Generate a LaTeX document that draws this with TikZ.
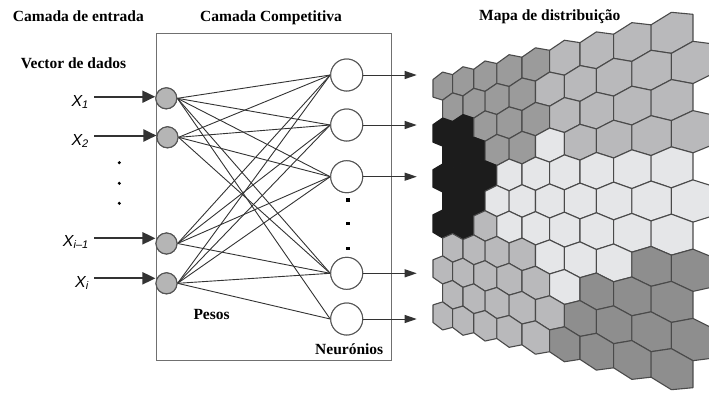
\documentclass[tikz,border=0pt]{standalone}
\usepackage{fontspec}
\setmainfont{Liberation Serif}
\newfontfamily\lsans{Liberation Sans}
\usetikzlibrary{arrows.meta}
\definecolor{hD}{HTML}{9B9B9B}
\definecolor{hE}{HTML}{8E8E8E}
\definecolor{hL}{HTML}{B9B9BB}
\definecolor{hW}{HTML}{E5E6E8}
\definecolor{hB}{HTML}{1C1C1C}
\definecolor{hexedge}{HTML}{4A4A4A}
\definecolor{wire}{HTML}{333333}
\definecolor{circ}{HTML}{555555}
\definecolor{infill}{HTML}{B5B5B5}
\definecolor{boxcol}{HTML}{707070}
\pgfmathdeclarefunction{hx}{1}{\pgfmathparse{1000/(2.066-0.0802*(#1))-51}}
\pgfmathdeclarefunction{hy}{2}{\pgfmathparse{-201-46.56/(2.066-0.0802*(#1))*(#2)}}
\begin{document}
\begin{tikzpicture}[x=1pt,y=1pt,
  title/.style={font=\bfseries\fontsize{15.5}{18}\selectfont, anchor=base west, inner sep=0pt},
  xlab/.style={font=\lsans\itshape\fontsize{16}{16}\selectfont, anchor=base east, inner sep=0pt},
  inn/.style={circle, draw=circ, fill=infill, minimum size=21pt, inner sep=0pt, line width=1.1pt},
  outn/.style={circle, draw=circ, fill=white, minimum size=32pt, inner sep=0pt, line width=1pt},
  boxst/.style={draw=boxcol, line width=1.3pt, inner sep=0pt, anchor=north west},
  wireln/.style={draw=wire, line width=0.9pt},
  inarr/.style={draw=wire, line width=2pt, -{Triangle[length=13pt,width=12pt]}},
  outarr/.style={draw=wire, line width=1pt, -{Triangle[length=12pt,width=8pt]}},
  hexcell/.style={line width=1.1pt, line join=round},
  cellD/.style={fill=hD, draw=hexedge},
  cellE/.style={fill=hE, draw=hexedge},
  cellL/.style={fill=hL, draw=hexedge},
  cellW/.style={fill=hW, draw=hexedge},
  cellB/.style={fill=hB, draw=hB},
  sqdot/.style={fill=black, minimum size=3.5pt, inner sep=0pt},
  rdot/.style={circle, fill=black, minimum size=3.4pt, inner sep=0pt}]
\useasboundingbox (0,0) rectangle (709,-392);
% hex map
\begin{scope}
\clip (0,0) rectangle (709,-392);
\foreach \r/\cols in {1/{D,D,D,D,D,L,L,L,L},2/{D,D,D,D,L,L,L,L,L},3/{B,B,D,D,D,L,L,L,L},4/{B,B,D,D,W,L,L,L,L},5/{B,B,B,W,W,W,W,W,W},6/{B,B,W,W,W,W,W,W,W},7/{B,B,L,W,W,W,W,W,W},8/{L,L,L,L,W,W,W,E,E},9/{L,L,L,L,L,W,E,E,E},10/{L,L,L,L,L,E,E,E,E},11/{L,L,L,L,L,E,E,E,E}}{
  \foreach \c [count=\i] in \cols {
    \pgfmathsetmacro\uc{\i-0.5*mod(\r,2)}
    \pgfmathsetmacro\vc{\r-6}
    \pgfmathsetmacro\ul{\uc-0.5}
    \pgfmathsetmacro\ur{\uc+0.5}
    \pgfmathsetmacro\vt{\vc-0.61}
    \pgfmathsetmacro\vu{\vc-0.39}
    \pgfmathsetmacro\vd{\vc+0.39}
    \pgfmathsetmacro\vb{\vc+0.61}
    \filldraw[hexcell, cell\c] ({hx(\uc)},{hy(\uc,\vt)}) -- ({hx(\ur)},{hy(\ur,\vu)}) -- ({hx(\ur)},{hy(\ur,\vd)}) -- ({hx(\uc)},{hy(\uc,\vb)}) -- ({hx(\ul)},{hy(\ul,\vd)}) -- ({hx(\ul)},{hy(\ul,\vu)}) -- cycle;
  }
}
\end{scope}
% titles
\node[title] (t1) at (12.7,-21.7) {Camada de entrada};
\node[title] (t2) at (200,-21.7) {Camada Competitiva};
\node[title] (t3) at (479,-20.5) {Mapa de distribuição};
\node[title] (t4) at (20.7,-68) {Vector de dados};
% box
\node[boxst, minimum width=235.2pt, minimum height=327.3pt] (box) at (155.5,-32.7) {};
\node[title] (pesos) at (193.3,-319) {Pesos};
\node[title] (neur) at (315,-354) {Neurónios};
% input nodes
\node[inn] (in1) at (166.3,-98.3) {};
\node[inn] (in2) at (167.5,-137.3) {};
\node[inn] (in3) at (166.5,-243.5) {};
\node[inn] (in4) at (166.5,-283.3) {};
% output nodes
\node[outn] (out1) at (346.7,-75) {};
\node[outn] (out2) at (346.7,-125) {};
\node[outn] (out3) at (346.7,-176.7) {};
\node[outn] (out4) at (346.7,-273.3) {};
\node[outn] (out5) at (346.7,-319) {};
% connections
\foreach \i/\j in {1/1,1/2,1/3,1/4,1/5,2/1,2/2,2/3,2/4,3/1,3/2,3/3,3/4,4/1,4/2,4/3,4/4,4/5}
  \draw[wireln] (in\i.east) -- (out\j.west);
% redraw nodes on top
\node[inn] at (in1) {};
\node[inn] at (in2) {};
\node[inn] at (in3) {};
\node[inn] at (in4) {};
\node[outn] at (out1) {};
\node[outn] at (out2) {};
\node[outn] at (out3) {};
\node[outn] at (out4) {};
\node[outn] at (out5) {};
% square dots
\node[sqdot] (sq1) at (348,-200) {};
\node[sqdot] (sq2) at (348,-223.3) {};
\node[sqdot] (sq3) at (348,-248.3) {};
% output arrows
\coordinate (o1) at (416.7,-75);
\coordinate (o2) at (416.7,-125);
\coordinate (o3) at (416.7,-176.7);
\coordinate (o4) at (416.7,-273.3);
\coordinate (o5) at (416.7,-319);
\foreach \j in {1,...,5} \draw[outarr] (out\j) -- (o\j);
% input labels
\node[xlab] (x1) at (88.5,-106) {X\raisebox{-2.5pt}{\fontsize{11}{11}\selectfont 1}};
\node[xlab] (x2) at (88.5,-145.3) {X\raisebox{-2.5pt}{\fontsize{11}{11}\selectfont 2}};
\node[xlab] (x3) at (88.5,-246) {X\raisebox{-2.5pt}{\fontsize{11}{11}\selectfont i–1}};
\node[xlab] (x4) at (88.5,-287) {X\raisebox{-2.5pt}{\fontsize{11}{11}\selectfont i}};
% vertical dots
\node[rdot] (d1) at (119.3,-162.7) {};
\node[rdot] (d2) at (119.3,-183.3) {};
\node[rdot] (d3) at (119.3,-203.3) {};
% input arrows
\coordinate (a1) at (94.3,-96.7);
\coordinate (a2) at (94.3,-135.5);
\coordinate (a3) at (94.3,-238.3);
\coordinate (a4) at (94.3,-278.3);
\draw[inarr] (a1) -- (a1 -| in1.west);
\draw[inarr] (a2) -- (a2 -| in2.west);
\draw[inarr] (a3) -- (a3 -| in3.west);
\draw[inarr] (a4) -- (a4 -| in4.west);
\end{tikzpicture}
\end{document}
